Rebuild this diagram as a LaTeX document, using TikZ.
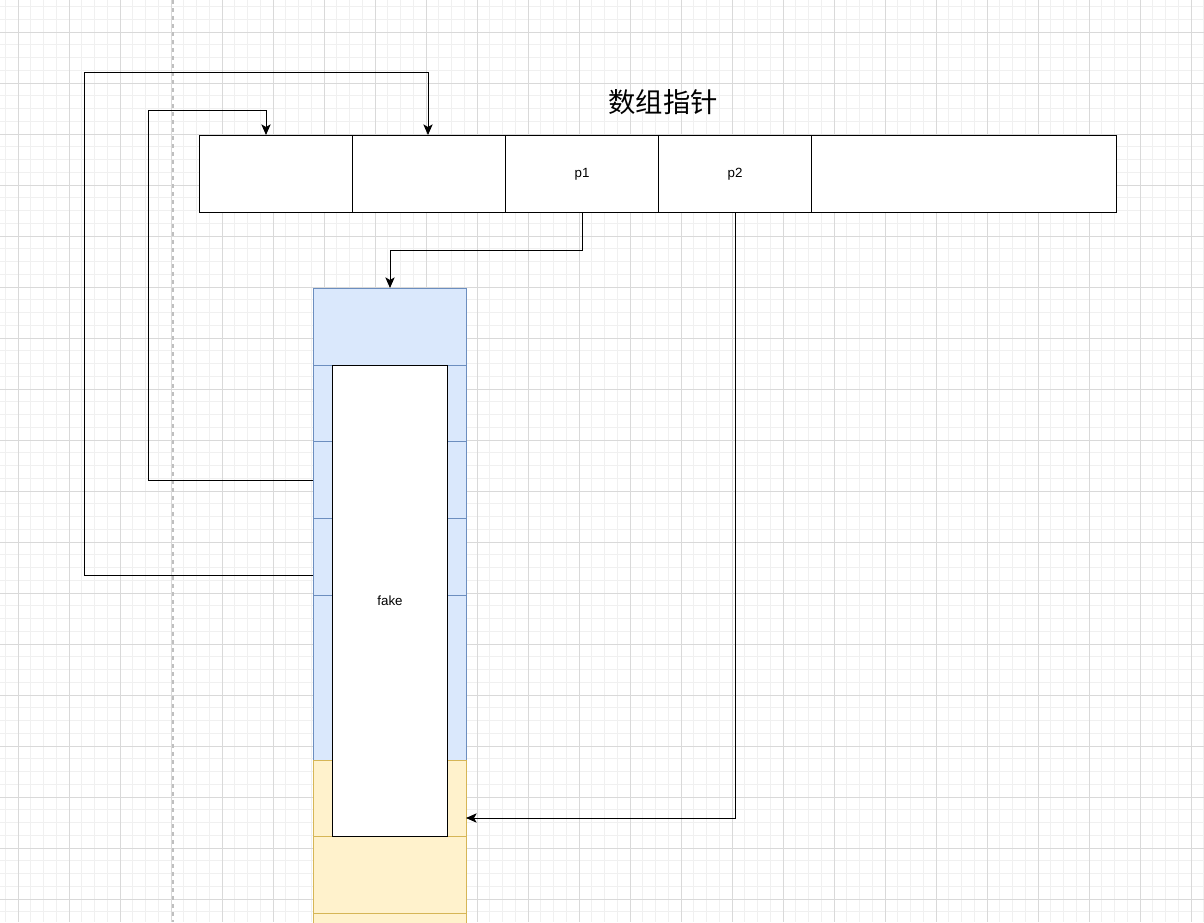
\documentclass[tikz,border=0pt]{standalone}
\usepackage{fontspec}
\setmainfont{Liberation Sans}
\newfontfamily\cjk{Noto Sans CJK SC}
\usetikzlibrary{arrows.meta}
\definecolor{bfill}{HTML}{DAE8FC}
\definecolor{bline}{HTML}{6C8EBF}
\definecolor{yfill}{HTML}{FFF2CC}
\definecolor{yline}{HTML}{D6B656}
\begin{document}
\begin{tikzpicture}[x=0.75pt,y=-0.75pt,
  cell/.style={draw=black,fill=white,line width=0.75pt,minimum height=77*0.75pt,inner sep=0pt,anchor=north west,font=\fontsize{10}{12}\selectfont},
  blue/.style={draw=bline,fill=bfill,line width=0.75pt},
  yel/.style={draw=yline,fill=yfill,line width=0.75pt},
  conn/.style={draw=black,line width=0.75pt,-{Stealth[length=8pt,width=7pt,inset=2pt]}}]
\useasboundingbox (0,0) rectangle (1204,922);
\fill[white] (0,0) rectangle (1204,922);
\foreach \x in {5.25,18,...,1204} \draw[black!6,line width=0.5pt] (\x,0)--(\x,922);
\foreach \y in {6.5,19.25,...,922} \draw[black!6,line width=0.5pt] (0,\y)--(1204,\y);
\foreach \x in {18,69,...,1204} \draw[black!15,line width=0.6pt] (\x,0)--(\x,922);
\foreach \y in {32,83,...,922} \draw[black!15,line width=0.6pt] (0,\y)--(1204,\y);
\draw[black!25,dashed,line width=0.8pt] (173,0)--(173,922);
% stack
\foreach \a/\b in {288/365,365/441,441/518,518/595,595/760} \draw[blue] (313,\a) rectangle (466,\b);
\foreach \a/\b in {760/836,836/913,913/930} \draw[yel] (313,\a) rectangle (466,\b);
\node[draw=black,fill=white,line width=0.75pt,minimum width=115*0.75pt,minimum height=471*0.75pt,inner sep=0pt,anchor=north west,font=\fontsize{10}{12}\selectfont] (fake) at (332,365) {fake};
\coordinate (stop) at (390,288);
\coordinate (sright) at (466,818);
\coordinate (s1) at (313,480);
\coordinate (s2) at (313,575);
% array
\node[cell,minimum width=153*0.75pt] (c0) at (199,135) {};
\node[cell,minimum width=153*0.75pt] (c1) at (352,135) {};
\node[cell,minimum width=153*0.75pt] (c2) at (505,135) {p1};
\node[cell,minimum width=153*0.75pt] (c3) at (658,135) {p2};
\node[cell,minimum width=305*0.75pt] (c4) at (811,135) {};
\node[font=\cjk\fontsize{20.5}{24}\selectfont] (title) at (663,102) {数组指针};
% connectors
\draw[conn] (c2.south) |- (390,250) -- (stop);
\draw[conn] (c3.south) |- (sright);
\draw[conn] (s1) -- (148,480) |- (266,110) -- (266,135);
\draw[conn] (s2) -- (84,575) |- (428,72) -- (428,135);
\end{tikzpicture}
\end{document}
